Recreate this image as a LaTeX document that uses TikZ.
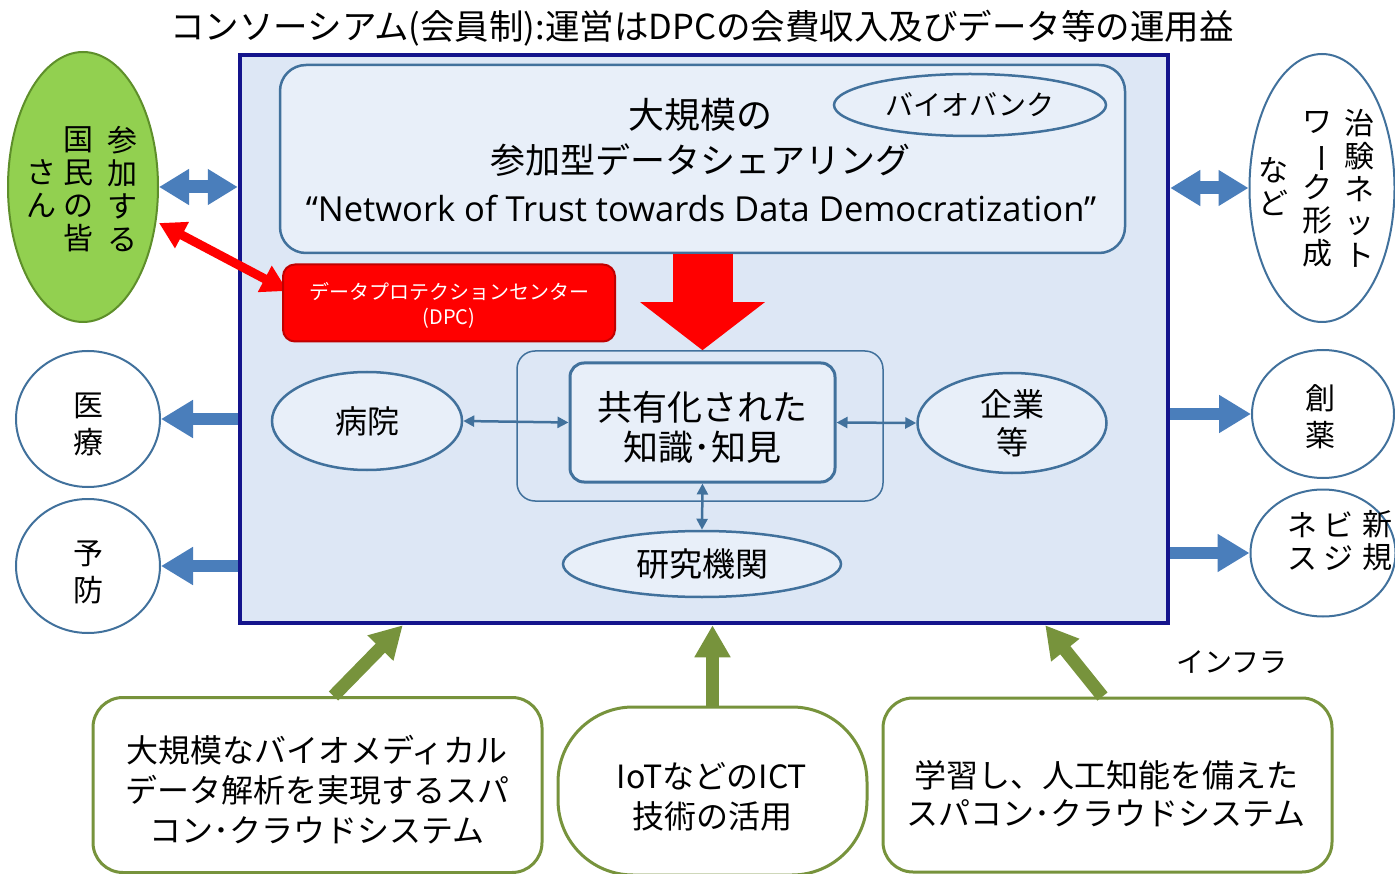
\documentclass[tikz,border=0pt]{standalone}
\usepackage{fontspec}
\setmainfont{Noto Sans CJK JP}
\newfontfamily\latfont{Open Sans}
\usetikzlibrary{arrows.meta,shapes.geometric,calc}
\definecolor{navy}{HTML}{14148C}
\definecolor{mainfill}{HTML}{DDE7F5}
\definecolor{lightfill}{HTML}{E8EFF9}
\definecolor{steel}{HTML}{41719C}
\definecolor{barrow}{HTML}{4A7EBB}
\definecolor{garrow}{HTML}{77933C}
\definecolor{gfill}{HTML}{92D050}
\definecolor{gborder}{HTML}{5E8F2A}
\definecolor{dred}{HTML}{C00000}
\begin{document}
\begin{tikzpicture}[x=1pt,y=-1pt,
  txt/.style={inner sep=0pt, align=center},
  vt/.style={inner sep=0pt, align=center, font=\fontsize{30}{33}\selectfont},
  vt2/.style={inner sep=0pt, align=center, font=\fontsize{30}{37}\selectfont},
  circ/.style={ellipse, draw=steel, line width=2pt, fill=white, inner sep=0pt},
  inel/.style={ellipse, draw=steel, line width=2.5pt, fill=lightfill, inner sep=0pt},
  gbox/.style={rectangle, draw=garrow, line width=3pt, fill=white, rounded corners=30pt, inner sep=0pt},
  bluearr/.style={draw=barrow, line width=12pt, -{Triangle[width=36pt,length=32pt]}},
  bluedbl/.style={draw=barrow, line width=13pt, {Triangle[width=34pt,length=30pt]}-{Triangle[width=34pt,length=30pt]}},
  reddbl/.style={draw=red, line width=9pt, {Triangle[width=28pt,length=26pt]}-{Triangle[width=28pt,length=26pt]}},
  greenarr/.style={draw=garrow, line width=13pt, -{Triangle[width=34pt,length=32pt]}},
  thinarr/.style={draw=steel, line width=2.5pt, {Triangle[width=11pt,length=11pt]}-{Triangle[width=11pt,length=11pt]}}
]
\useasboundingbox (0,0) rectangle (1395,874);
\fill[white] (0,0) rectangle (1395,874);

% title
\node[txt, font=\fontsize{34.5}{40}\selectfont] (title) at (702,28) {コンソーシアム(会員制):運営はDPCの会費収入及びデータ等の運用益};

% main frame
\node[rectangle, draw=navy, line width=4.5pt, fill=mainfill, minimum width=928pt, minimum height=568pt, inner sep=0pt] (main) at (704,339) {};

% top box
\node[rectangle, rounded corners=26pt, draw=steel, line width=2.5pt, fill=lightfill, minimum width=845pt, minimum height=188pt, inner sep=0pt] (tb) at (702.5,159) {};
\node[txt, font=\fontsize{36}{42}\selectfont] (t1) at (700,115) {大規模の};
\node[txt, font=\fontsize{35}{42}\selectfont] (t2) at (700,160) {参加型データシェアリング};
\node[txt, font=\latfont\fontsize{34.5}{40}\selectfont] (t3) at (701,208) {“Network of Trust towards Data Democratization”};
\node[inel, minimum width=272pt, minimum height=62pt, font=\fontsize{28}{34}\selectfont] (bio) at (970,105) {バイオバンク};

% inner container and central box
\node[rectangle, rounded corners=18pt, draw=steel, line width=1.5pt, minimum width=366pt, minimum height=150pt, inner sep=0pt] (ic) at (700,426) {};
\node[rectangle, rounded corners=14pt, draw=steel, line width=3pt, fill=lightfill, minimum width=265pt, minimum height=119pt, inner sep=0pt] (cb) at (702.5,422.5) {};
\node[txt, font=\fontsize{35}{40}\selectfont] (cbt) at (702.5,427) {共有化された\\知識･知見};

% big red arrow
\draw[draw=red, line width=60pt, -{Triangle[width=122pt,length=48pt]}] (tb.south) -- (tb.south |- ic.north);

% satellite ellipses
\node[inel, minimum width=190pt, minimum height=98pt, font=\fontsize{32}{38}\selectfont] (hosp) at (367,421) {病院};
\node[inel, minimum width=189pt, minimum height=100pt, font=\fontsize{32}{38}\selectfont, align=center] (corp) at (1012,423) {企業\\等};
\node[inel, minimum width=278pt, minimum height=66pt, font=\fontsize{33}{38}\selectfont] (lab) at (702,564) {研究機関};
\draw[thinarr] (hosp.east) -- (cb.west);
\draw[thinarr] (cb.east) -- (corp.west);
\draw[thinarr] (cb.south) -- (lab.north);

% green ellipse (participants)
\node[ellipse, draw=gborder, line width=2pt, fill=gfill, minimum width=150pt, minimum height=270pt, inner sep=0pt] (pub) at (83,187) {};
\node[vt] (pub1) at (122,189) {参\\加\\す\\る};
\node[vt] (pub2) at (78,189) {国\\民\\の\\皆};
\node[vt] (pub3) at (41,189) {さ\\ん};

% red double arrow and DPC box
\draw[reddbl] ($(pub.east)+(0,36)$) -- ($(main.west)+(50,-48)$);
\node[rectangle, rounded corners=12pt, draw=dred, line width=2pt, fill=red, minimum width=332pt, minimum height=77pt, inner sep=0pt] (dpc) at (449,303) {};
\node[txt, text=white, font=\fontsize{20}{25}\selectfont] (dpct) at (449,305) {データプロテクションセンター\\(DPC)};

\draw[bluedbl] (pub.east) -- (pub.east -| main.west);

% right network ellipse
\node[circ, minimum width=145pt, minimum height=268pt] (tri) at (1322,188) {};
\node[vt] (tri1) at (1359,188) {治\\験\\ネ\\ッ\\ト};
\node[vt] (tri2) at (1317,189) {ワ\\\rotatebox[origin=c]{-90}{ー}\\ク\\形\\成};
\node[vt] (tri3) at (1273,187) {な\\ど};
\draw[bluedbl] (tri.west -| main.east) -- (tri.west);

% left circles
\node[circ, minimum width=144pt, minimum height=136pt] (med) at (88,419) {};
\node[vt2] (medt) at (88,424) {医\\療};
\node[circ, minimum width=144pt, minimum height=134pt] (prev) at (88,566) {};
\node[vt2] (prevt) at (88,572) {予\\防};
\draw[bluearr] (med.east -| main.west) -- (med.east);
\draw[bluearr] (prev.east -| main.west) -- (prev.east);

% right circles
\node[circ, minimum width=142pt, minimum height=128pt] (drug) at (1323,414) {};
\node[vt2] (drugt) at (1320,417) {創\\薬};
\node[circ, minimum width=145pt, minimum height=127pt] (biz) at (1323,553) {};
\node[vt] (biz1) at (1377,541) {新\\規};
\node[vt] (biz2) at (1338,541) {ビ\\ジ};
\node[vt] (biz3) at (1302,541) {ネ\\ス};
\draw[bluearr] (drug.west -| main.east) -- (drug.west);
\draw[bluearr] (biz.west -| main.east) -- (biz.west);

% bottom boxes
\node[gbox, minimum width=449pt, minimum height=175pt] (lb) at (317.5,785) {};
\node[txt, font=\fontsize{32}{40}\selectfont] (lbt) at (317,790) {大規模なバイオメディカル\\データ解析を実現するスパ\\コン･クラウドシステム};
\node[gbox, rounded corners=75pt, minimum width=309pt, minimum height=168pt] (mb) at (712.5,791) {};
\node[txt, font=\fontsize{32}{40}\selectfont] (mbt) at (712,797) {IoTなどのICT\\技術の活用};
\node[gbox, minimum width=449pt, minimum height=174pt] (rb) at (1107.5,785) {};
\node[txt, font=\fontsize{32}{38}\selectfont] (rbt) at (1106,794) {学習し、人工知能を備えた\\スパコン･クラウドシステム};

\draw[greenarr] ($(lb.north)+(16,0)$) -- ($(main.south west)+(165,0)$);
\draw[greenarr] (mb.north) -- (mb.north |- main.south);
\draw[greenarr] ($(rb.north)+(-5,0)$) -- ($(main.south east)+(-125,0)$);

\node[txt, font=\fontsize{28}{34}\selectfont] (infra) at (1232,662) {インフラ};
\end{tikzpicture}
\end{document}
